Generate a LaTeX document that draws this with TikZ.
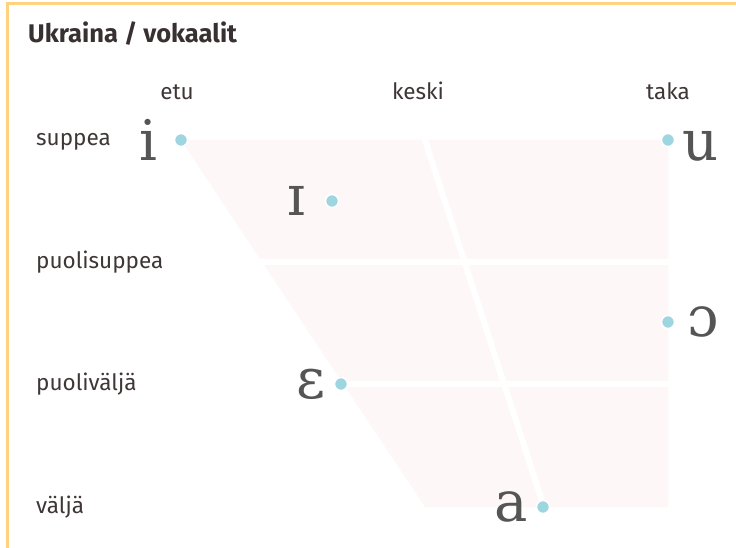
\documentclass[tikz,border=0pt]{standalone}
\usepackage{fontspec}
\setmainfont{Fira Sans}
\newfontfamily\ipafont{DejaVu Serif}
\definecolor{bordercol}{HTML}{FFD27F}
\definecolor{cellfill}{HTML}{FDF7F8}
\definecolor{dotcol}{HTML}{9DD5E0}
\definecolor{labelcol}{HTML}{3F3636}
\definecolor{symcol}{HTML}{555555}
\begin{document}
\begin{tikzpicture}[x=1pt,y=-1pt,
  lab/.style={text=labelcol,font=\fontsize{22.5}{26}\selectfont,inner sep=0pt},
  sym/.style={text=symcol,font=\ipafont\fontsize{56}{60}\selectfont,inner sep=0pt},
  vdot/.style={circle,fill=dotcol,draw=white,line width=1.5pt,minimum size=13pt,inner sep=0pt},
  gap/.style={draw=white,line width=6pt}]
\useasboundingbox (0,0) rectangle (736,548);
\fill[white] (0,0) rectangle (736,548);
% frame
\draw[bordercol,line width=3pt] (7,550) -- (7,4) -- (740,4);
% title
\node[anchor=base west,text=labelcol!90!black,font=\bfseries\fontsize{25.5}{30}\selectfont,inner sep=0pt] (title) at (28,43) {Ukraina / vokaalit};
% column labels
\node[lab,anchor=base] (etu) at (177,100) {etu};
\node[lab,anchor=base] (keski) at (418,100) {keski};
\node[lab,anchor=base] (taka) at (668,100) {taka};
% row labels
\node[lab,anchor=base west] (r1) at (36,146) {suppea};
\node[lab,anchor=base west] (r2) at (36,268) {puolisuppea};
\node[lab,anchor=base west] (r3) at (36,390) {puoliväljä};
\node[lab,anchor=base west] (r4) at (36,513) {väljä};
% trapezoid
\fill[cellfill] (181,140) -- (668,140) -- (668,507) -- (425,507) -- cycle;
\draw[gap] (250,262) -- (700,262);
\draw[gap] (330,384) -- (700,384);
\draw[gap] (424,137) -- (545,510);
% dots
\node[vdot] (di) at (181,140) {};
\node[vdot] (dI) at (332,201) {};
\node[vdot] (du) at (668,140) {};
\node[vdot] (do) at (668,322) {};
\node[vdot] (de) at (341,384) {};
\node[vdot] (da) at (543,507) {};
% symbols
\node[sym,anchor=base east] (si) at (158,161) {i};
\node[sym,anchor=base east] (sI) at (306,215) {ɪ};
\node[sym,anchor=base west] (su) at (682,161) {u};
\node[sym,anchor=base west] (so) at (687,336) {ɔ};
\node[sym,anchor=base east] (se) at (326,398) {ɛ};
\node[sym,anchor=base east] (sa) at (528,521) {a};
\end{tikzpicture}
\end{document}
